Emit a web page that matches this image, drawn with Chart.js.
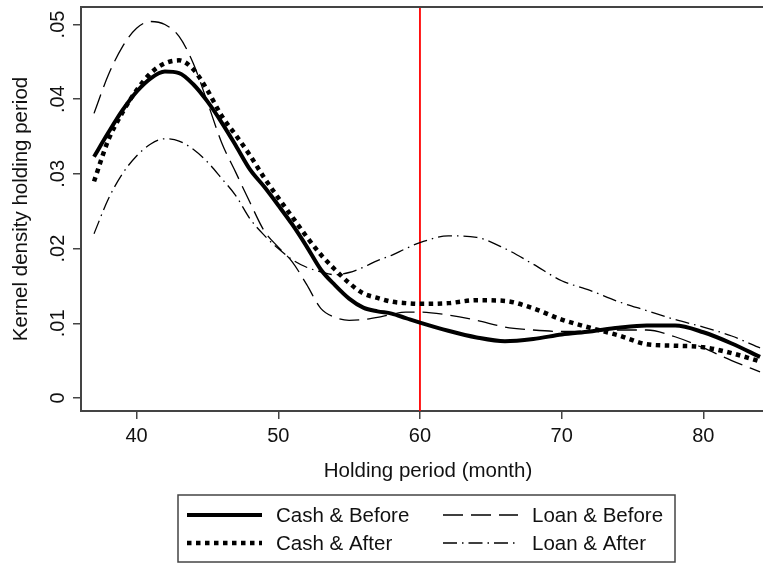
<!DOCTYPE html>
<html>
<head>
<meta charset="utf-8">
<script src="https://cdn.jsdelivr.net/npm/chart.js@4.4.1/dist/chart.umd.min.js"></script>
<style>
  body { margin: 0; background: #fff; }
  #wrap { width: 763px; height: 565px; overflow: hidden; }
</style>
</head>
<body>
<div id="wrap"><canvas id="graphique" width="766" height="565"></canvas></div>
<script>
// Mois de détention (axe x)
const mois = [37, 38, 39, 40, 41, 42, 43, 44, 45, 46, 47, 48, 49, 50, 51, 52, 53, 54, 55, 56, 57, 58, 59, 60,
  62, 64, 66, 68, 70, 72, 74, 76, 78, 80, 82, 84];

// Densités estimées pour chaque groupe
const cashAvant = [.0323, .0355, .0385, .0410, .0428, .0437, .0435, .0420, .0397, .0369, .0338, .0306, .0283, .0258,
  .0232, .0203, .0172, .0151, .0133, .0121, .0116, .0113, .0107, .0101,
  .0090, .0081, .0076, .0079, .0085, .0089, .0094, .0097, .0097, .0088, .0073, .0055];
const cashApres = [.0290, .0345, .0382, .0412, .0435, .0448, .0452, .0440, .0412, .0378, .0352, .0325, .0295, .0268,
  .0242, .0216, .0192, .0172, .0154, .0140, .0134, .0129, .0127, .0126,
  .0127, .0131, .0130, .0120, .0105, .0094, .0084, .0072, .0070, .0068, .0060, .0049];
const pretAvant = [.0381, .0432, .0470, .0495, .0504, .0500, .0484, .0448, .0396, .0342, .0302, .0262, .0224, .0202,
  .0182, .0152, .0120, .0108, .0104, .0105, .0108, .0112, .0115, .0115,
  .0111, .0104, .0095, .0091, .0089, .0090, .0091, .0091, .0082, .0067, .0050, .0035];
const pretApres = [.0220, .0266, .0300, .0324, .0340, .0347, .0344, .0333, .0316, .0294, .0271, .0240, .0218, .0200,
  .0185, .0175, .0169, .0165, .0168, .0175, .0184, .0191, .0200, .0208,
  .0217, .0215, .0200, .0179, .0157, .0144, .0129, .0117, .0105, .0095, .0083, .0067];

const ticksX = [40, 50, 60, 70, 80];
const ticksY = [0, .01, .02, .03, .04, .05];
const etiquettesY = ['0', '.01', '.02', '.03', '.04', '.05'];
const seuil = 60; // ligne verticale rouge

const POLICE = '"Liberation Sans", Arial, sans-serif';

function points(valeurs) {
  return valeurs.map((v, i) => ({ x: mois[i], y: v }));
}

const series = [
  { label: 'Cash & Before', data: points(cashAvant), borderWidth: 4, borderDash: [] },
  { label: 'Cash & After', data: points(cashApres), borderWidth: 4.5, borderDash: [4.5, 4.5] },
  { label: 'Loan & Before', data: points(pretAvant), borderWidth: 1.3, borderDash: [20, 8] },
  { label: 'Loan & After', data: points(pretApres), borderWidth: 1.3, borderDash: [14, 5, 1.5, 5] }
];

// Titres, étiquettes verticales, ligne rouge et légende encadrée
const decor = {
  id: 'decor',
  beforeDatasetsDraw(chart) {
    const { ctx, chartArea, scales } = chart;
    const px = scales.x.getPixelForValue(seuil);
    ctx.save();
    ctx.strokeStyle = '#ff0000';
    ctx.lineWidth = 1.8;
    ctx.beginPath();
    ctx.moveTo(px, chartArea.top);
    ctx.lineTo(px, chartArea.bottom);
    ctx.stroke();
    ctx.restore();
  },
  afterDraw(chart) {
    const { ctx, chartArea, scales } = chart;
    ctx.save();

    // cadre du haut
    ctx.strokeStyle = '#444';
    ctx.lineWidth = 2;
    ctx.beginPath();
    ctx.moveTo(chartArea.left, chartArea.top);
    ctx.lineTo(chartArea.right + 5, chartArea.top);
    ctx.stroke();

    ctx.fillStyle = '#111';
    ctx.font = '20px ' + POLICE;
    ctx.textAlign = 'center';
    ctx.textBaseline = 'middle';

    ticksY.forEach((v, i) => {
      const py = scales.y.getPixelForValue(v);
      ctx.save();
      ctx.translate(58, py);
      ctx.rotate(-Math.PI / 2);
      ctx.fillText(etiquettesY[i], 0, 0);
      ctx.restore();
    });

    ctx.font = '20.5px ' + POLICE;
    ctx.fillText('Holding period (month)', 428, 471);
    ctx.save();
    ctx.translate(21, (chartArea.top + chartArea.bottom) / 2);
    ctx.rotate(-Math.PI / 2);
    ctx.fillText('Kernel density holding period', 0, 0);
    ctx.restore();

    // légende
    ctx.strokeStyle = '#444';
    ctx.lineWidth = 1.5;
    ctx.strokeRect(178, 495, 497, 67);
    const positions = [
      { x: 187, y: 515 }, { x: 187, y: 543 },
      { x: 443, y: 515 }, { x: 443, y: 543 }
    ];
    ctx.textAlign = 'left';
    ctx.font = '20.5px ' + POLICE;
    series.forEach((s, i) => {
      const p = positions[i];
      ctx.save();
      ctx.strokeStyle = '#000';
      ctx.lineWidth = s.borderWidth;
      ctx.setLineDash(s.borderDash);
      ctx.beginPath();
      ctx.moveTo(p.x, p.y);
      ctx.lineTo(p.x + 75, p.y);
      ctx.stroke();
      ctx.restore();
      ctx.fillStyle = '#111';
      ctx.fillText(s.label, p.x + 89, p.y + 1);
    });

    ctx.restore();
  }
};

new Chart(document.getElementById('graphique'), {
  type: 'line',
  data: {
    datasets: series.map(s => ({
      label: s.label,
      data: s.data,
      borderColor: '#000',
      borderWidth: s.borderWidth,
      borderDash: s.borderDash,
      borderCapStyle: 'butt',
      pointRadius: 0,
      fill: false,
      cubicInterpolationMode: 'monotone'
    }))
  },
  options: {
    responsive: false,
    animation: false,
    layout: { padding: { top: 7, right: 0, left: 0, bottom: 0 } },
    plugins: { legend: { display: false }, tooltip: { enabled: false } },
    scales: {
      x: {
        type: 'linear',
        min: 36.08,
        max: 84.42,
        afterFit: scale => { scale.height = 154; },
        afterBuildTicks: scale => { scale.ticks = ticksX.map(v => ({ value: v })); },
        ticks: {
          font: { size: 20, family: POLICE },
          color: '#111',
          padding: 5,
          maxRotation: 0,
          callback: v => String(v)
        },
        grid: { drawOnChartArea: false, drawTicks: true, tickLength: 8, color: '#444', lineWidth: 1.5 },
        border: { display: true, color: '#444', width: 2 }
      },
      y: {
        type: 'linear',
        min: -0.00174,
        max: 0.05234,
        afterFit: scale => { scale.width = 81; },
        afterBuildTicks: scale => { scale.ticks = ticksY.map(v => ({ value: v })); },
        ticks: { display: false },
        grid: { drawOnChartArea: false, drawTicks: true, tickLength: 8, color: '#444', lineWidth: 1.5 },
        border: { display: true, color: '#444', width: 2 }
      }
    }
  },
  plugins: [decor]
});
</script>
</body>
</html>
